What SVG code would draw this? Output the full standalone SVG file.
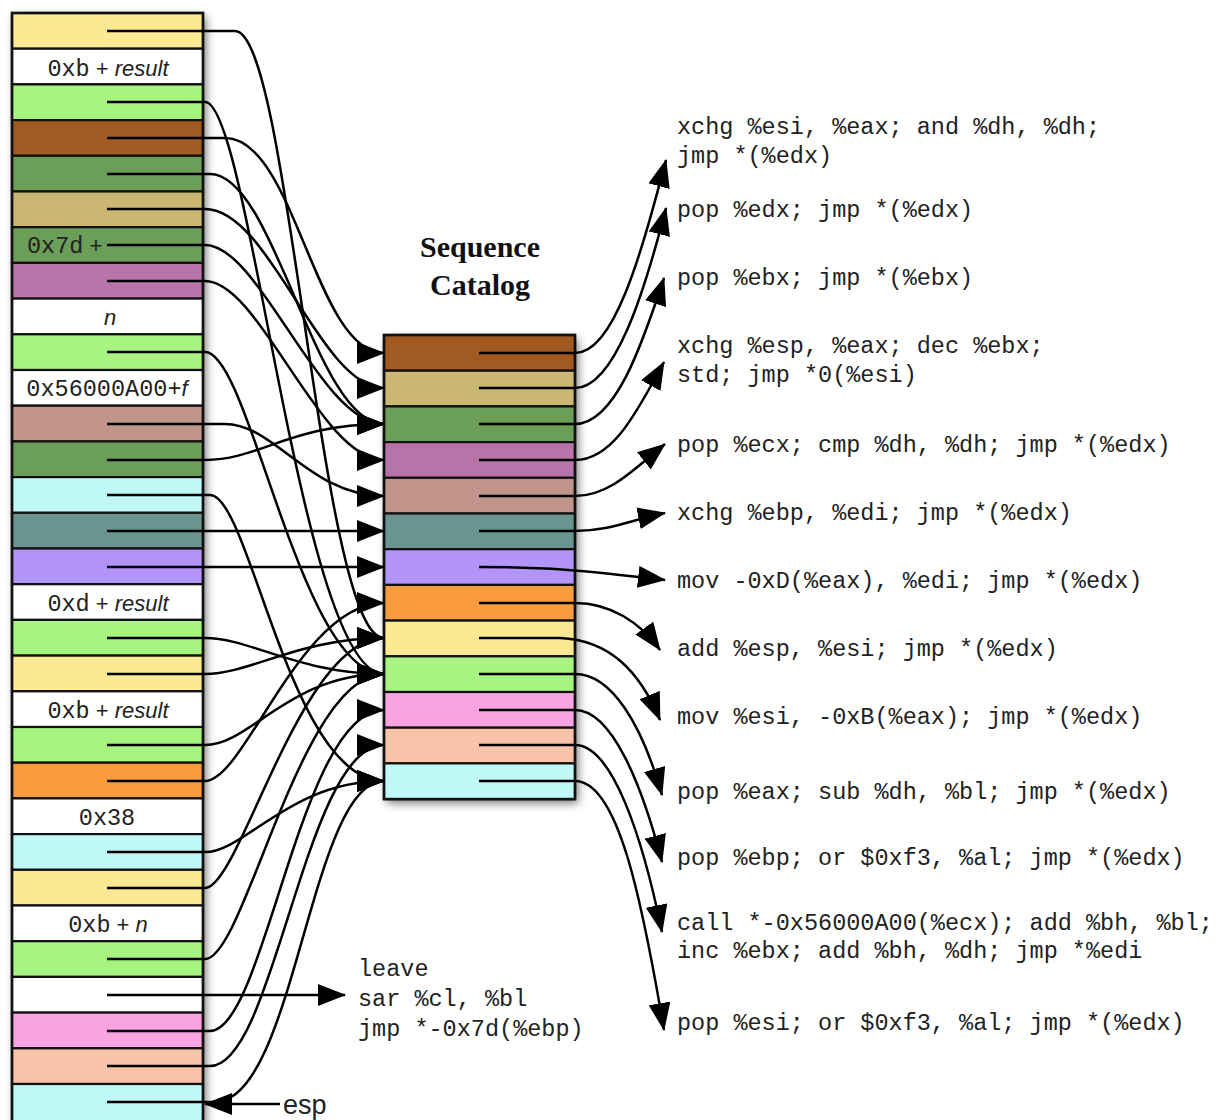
<svg xmlns="http://www.w3.org/2000/svg" width="1220" height="1120" viewBox="0 0 1220 1120">
<style>
.cell{stroke:#111;stroke-width:2.2}
.mono{font-family:"Liberation Mono","DejaVu Sans Mono",monospace;font-size:23.5px;fill:#222}
.sans{font-family:"Liberation Sans",Arial,sans-serif;font-size:22px;fill:#222}
.it{font-style:italic}
.title{font-family:"Liberation Serif","Times New Roman",serif;font-size:30px;font-weight:bold;fill:#111;text-anchor:middle}
.ar{fill:none;stroke:#000;stroke-width:2.5;marker-end:url(#ah)}
.c1{fill:#a05a22}.c2{fill:#c9b772}.c3{fill:#6b9e57}.c4{fill:#b874a8}.c5{fill:#c0948a}.c6{fill:#6a9490}
.c7{fill:#b394f8}.c8{fill:#f99c3e}.c9{fill:#fde894}.c10{fill:#a8f480}.c11{fill:#f9a3e2}.c12{fill:#f9c3aa}.c13{fill:#c0f8f8}.cw{fill:#fff}
</style>
<defs>
<filter id="sh" x="-20%" y="-5%" width="140%" height="115%">
<feDropShadow dx="3" dy="4" stdDeviation="5" flood-color="#000" flood-opacity="0.55"/>
</filter>
<marker id="ah" viewBox="0 0 28 22" refX="27" refY="11" markerWidth="28" markerHeight="22" markerUnits="userSpaceOnUse" orient="auto">
<path d="M0,0 L28,11 L0,22 z" fill="#000"/>
</marker>
</defs>
<rect width="1220" height="1120" fill="#fff"/>

<!-- Stack -->
<g id="stack">
<rect x="12" y="13" width="191" height="1110" fill="#fff" filter="url(#sh)"/>
<g id="s1"><rect class="cell c9" x="12" y="13" width="191" height="35.7"/></g>
<g id="s2"><rect class="cell cw" x="12" y="48.7" width="191" height="35.7"/><text x="108" y="76" text-anchor="middle"><tspan class="mono">0xb</tspan><tspan class="sans"> + </tspan><tspan class="sans it">result</tspan></text></g>
<g id="s3"><rect class="cell c10" x="12" y="84.4" width="191" height="35.7"/></g>
<g id="s4"><rect class="cell c1" x="12" y="120.1" width="191" height="35.7"/></g>
<g id="s5"><rect class="cell c3" x="12" y="155.8" width="191" height="35.7"/></g>
<g id="s6"><rect class="cell c2" x="12" y="191.5" width="191" height="35.7"/></g>
<g id="s7"><rect class="cell c3" x="12" y="227.2" width="191" height="35.7"/><text x="27" y="253"><tspan class="mono">0x7d</tspan><tspan class="sans"> +</tspan></text></g>
<g id="s8"><rect class="cell c4" x="12" y="262.9" width="191" height="35.7"/></g>
<g id="s9"><rect class="cell cw" x="12" y="298.6" width="191" height="35.7"/><text class="sans it" x="110" y="325" text-anchor="middle">n</text></g>
<g id="s10"><rect class="cell c10" x="12" y="334.3" width="191" height="35.7"/></g>
<g id="s11"><rect class="cell cw" x="12" y="370" width="191" height="35.7"/><text x="107" y="396" text-anchor="middle"><tspan class="mono">0x56000A00+</tspan><tspan class="sans it">f</tspan></text></g>
<g id="s12"><rect class="cell c5" x="12" y="405.7" width="191" height="35.7"/></g>
<g id="s13"><rect class="cell c3" x="12" y="441.4" width="191" height="35.7"/></g>
<g id="s14"><rect class="cell c13" x="12" y="477.1" width="191" height="35.7"/></g>
<g id="s15"><rect class="cell c6" x="12" y="512.8" width="191" height="35.7"/></g>
<g id="s16"><rect class="cell c7" x="12" y="548.5" width="191" height="35.7"/></g>
<g id="s17"><rect class="cell cw" x="12" y="584.2" width="191" height="35.7"/><text x="108" y="611" text-anchor="middle"><tspan class="mono">0xd</tspan><tspan class="sans"> + </tspan><tspan class="sans it">result</tspan></text></g>
<g id="s18"><rect class="cell c10" x="12" y="619.9" width="191" height="35.7"/></g>
<g id="s19"><rect class="cell c9" x="12" y="655.6" width="191" height="35.7"/></g>
<g id="s20"><rect class="cell cw" x="12" y="691.3" width="191" height="35.7"/><text x="108" y="718" text-anchor="middle"><tspan class="mono">0xb</tspan><tspan class="sans"> + </tspan><tspan class="sans it">result</tspan></text></g>
<g id="s21"><rect class="cell c10" x="12" y="727" width="191" height="35.7"/></g>
<g id="s22"><rect class="cell c8" x="12" y="762.7" width="191" height="35.7"/></g>
<g id="s23"><rect class="cell cw" x="12" y="798.4" width="191" height="35.7"/><text class="mono" x="107" y="825" text-anchor="middle">0x38</text></g>
<g id="s24"><rect class="cell c13" x="12" y="834.1" width="191" height="35.7"/></g>
<g id="s25"><rect class="cell c9" x="12" y="869.8" width="191" height="35.7"/></g>
<g id="s26"><rect class="cell cw" x="12" y="905.5" width="191" height="35.7"/><text x="108" y="932" text-anchor="middle"><tspan class="mono">0xb</tspan><tspan class="sans"> + </tspan><tspan class="sans it">n</tspan></text></g>
<g id="s27"><rect class="cell c10" x="12" y="941.2" width="191" height="35.7"/></g>
<g id="s28"><rect class="cell cw" x="12" y="976.9" width="191" height="35.7"/></g>
<g id="s29"><rect class="cell c11" x="12" y="1012.6" width="191" height="35.7"/></g>
<g id="s30"><rect class="cell c12" x="12" y="1048.3" width="191" height="35.7"/></g>
<g id="s31"><rect class="cell c13" x="12" y="1084" width="191" height="40"/></g>
<rect x="12" y="13" width="191" height="1111" fill="none" stroke="#111" stroke-width="2.6"/>
</g>

<!-- Catalog -->
<g id="catalog">
<text class="title" x="480" y="257">Sequence</text>
<text class="title" x="480" y="295">Catalog</text>
<rect x="384" y="335" width="191" height="464" fill="#fff" filter="url(#sh)"/>
<g id="k1"><rect class="cell c1" x="384" y="335" width="191" height="35.7"/></g>
<g id="k2"><rect class="cell c2" x="384" y="370.7" width="191" height="35.7"/></g>
<g id="k3"><rect class="cell c3" x="384" y="406.4" width="191" height="35.7"/></g>
<g id="k4"><rect class="cell c4" x="384" y="442.1" width="191" height="35.7"/></g>
<g id="k5"><rect class="cell c5" x="384" y="477.8" width="191" height="35.7"/></g>
<g id="k6"><rect class="cell c6" x="384" y="513.5" width="191" height="35.7"/></g>
<g id="k7"><rect class="cell c7" x="384" y="549.2" width="191" height="35.7"/></g>
<g id="k8"><rect class="cell c8" x="384" y="584.9" width="191" height="35.7"/></g>
<g id="k9"><rect class="cell c9" x="384" y="620.6" width="191" height="35.7"/></g>
<g id="k10"><rect class="cell c10" x="384" y="656.3" width="191" height="35.7"/></g>
<g id="k11"><rect class="cell c11" x="384" y="692" width="191" height="35.7"/></g>
<g id="k12"><rect class="cell c12" x="384" y="727.7" width="191" height="35.7"/></g>
<g id="k13"><rect class="cell c13" x="384" y="763.4" width="191" height="35.7"/></g>
<rect x="384" y="335" width="191" height="464.1" fill="none" stroke="#111" stroke-width="2.6"/>
</g>

<!-- Gadget texts -->
<g id="t1"><text class="mono" x="677" y="134">xchg %esi, %eax; and %dh, %dh;</text><text class="mono" x="677" y="163">jmp *(%edx)</text></g>
<g id="t2"><text class="mono" x="677" y="217">pop %edx; jmp *(%edx)</text></g>
<g id="t3"><text class="mono" x="677" y="285">pop %ebx; jmp *(%ebx)</text></g>
<g id="t4"><text class="mono" x="677" y="353">xchg %esp, %eax; dec %ebx;</text><text class="mono" x="677" y="382">std; jmp *0(%esi)</text></g>
<g id="t5"><text class="mono" x="677" y="452">pop %ecx; cmp %dh, %dh; jmp *(%edx)</text></g>
<g id="t6"><text class="mono" x="677" y="520">xchg %ebp, %edi; jmp *(%edx)</text></g>
<g id="t7"><text class="mono" x="677" y="588">mov -0xD(%eax), %edi; jmp *(%edx)</text></g>
<g id="t8"><text class="mono" x="677" y="656">add %esp, %esi; jmp *(%edx)</text></g>
<g id="t9"><text class="mono" x="677" y="724">mov %esi, -0xB(%eax); jmp *(%edx)</text></g>
<g id="t10"><text class="mono" x="677" y="799">pop %eax; sub %dh, %bl; jmp *(%edx)</text></g>
<g id="t11"><text class="mono" x="677" y="865">pop %ebp; or $0xf3, %al; jmp *(%edx)</text></g>
<g id="t12"><text class="mono" x="677" y="930">call *-0x56000A00(%ecx); add %bh, %bl;</text><text class="mono" x="677" y="958">inc %ebx; add %bh, %dh; jmp *%edi</text></g>
<g id="t13"><text class="mono" x="677" y="1030">pop %esi; or $0xf3, %al; jmp *(%edx)</text></g>
<g id="t14"><text class="mono" x="358" y="976">leave</text><text class="mono" x="358" y="1006">sar %cl, %bl</text><text class="mono" x="358" y="1036">jmp *-0x7d(%ebp)</text></g>
<g id="t15"><text class="sans" x="283" y="1114" style="font-size:27px">esp</text></g>

<!-- Connectors -->
<g id="connectors">
<!-- stack to catalog -->
<path class="ar" d="M107,31 H235 C290,31 320,638 384,638"/>
<path class="ar" d="M107,102 H205 C250,102 300,674 384,674"/>
<path class="ar" d="M107,138 H225 C295,138 315,353 384,353"/>
<path class="ar" d="M107,174 H210 C275,174 315,424 384,424"/>
<path class="ar" d="M107,209 H205 C270,209 320,388 384,388"/>
<path class="ar" d="M107,245 H205 C260,245 320,424 384,424"/>
<path class="ar" d="M107,281 H205 C260,281 320,460 384,460"/>
<path class="ar" d="M107,352 H205 C250,352 300,674 384,674"/>
<path class="ar" d="M107,424 H225 C275,424 310,496 384,496"/>
<path class="ar" d="M107,460 H205 C260,460 290,424 384,424"/>
<path class="ar" d="M107,495 H210 C250,495 290,781 384,781"/>
<path class="ar" d="M107,531 H384"/>
<path class="ar" d="M107,567 H384"/>
<path class="ar" d="M107,638 H205 C250,638 300,674 384,674"/>
<path class="ar" d="M107,674 H205 C250,674 300,638 384,638"/>
<path class="ar" d="M107,745 H205 C250,745 290,674 384,674"/>
<path class="ar" d="M107,781 H205 C245,781 300,603 384,603"/>
<path class="ar" d="M107,852 H205 C245,852 290,781 384,781"/>
<path class="ar" d="M107,888 H205 C240,888 300,638 384,638"/>
<path class="ar" d="M107,959 H205 C245,959 300,674 384,674"/>
<path class="ar" d="M107,1031 H210 C265,1031 300,710 384,710"/>
<path class="ar" d="M107,1066 H210 C275,1066 305,745 384,745"/>
<path class="ar" d="M107,1102 H215 C295,1102 310,781 384,781"/>
<path class="ar" d="M107,995 H345"/>
<!-- catalog to gadgets -->
<path class="ar" d="M479,353 H575 C615,353 642,250 666,160"/>
<path class="ar" d="M479,388 H575 C615,388 645,290 666,208"/>
<path class="ar" d="M479,424 H575 C615,424 642,345 664,278"/>
<path class="ar" d="M479,460 H575 C615,460 640,405 664,362"/>
<path class="ar" d="M479,496 H575 C610,496 635,468 665,444"/>
<path class="ar" d="M479,531 H575 C610,531 630,520 665,513"/>
<path class="ar" d="M479,567 C545,567 580,570 665,580"/>
<path class="ar" d="M479,603 H575 C610,603 640,622 660,650"/>
<path class="ar" d="M479,638 H560 C610,640 640,672 660,720"/>
<path class="ar" d="M479,674 H575 C612,674 642,725 662,795"/>
<path class="ar" d="M479,710 H575 C612,710 642,785 662,862"/>
<path class="ar" d="M479,745 H575 C612,745 642,835 662,932"/>
<path class="ar" d="M479,781 H575 C618,781 642,900 664,1030"/>
<!-- esp pointer -->
<path class="ar" d="M280,1104 H205"/>
</g>
</svg>
